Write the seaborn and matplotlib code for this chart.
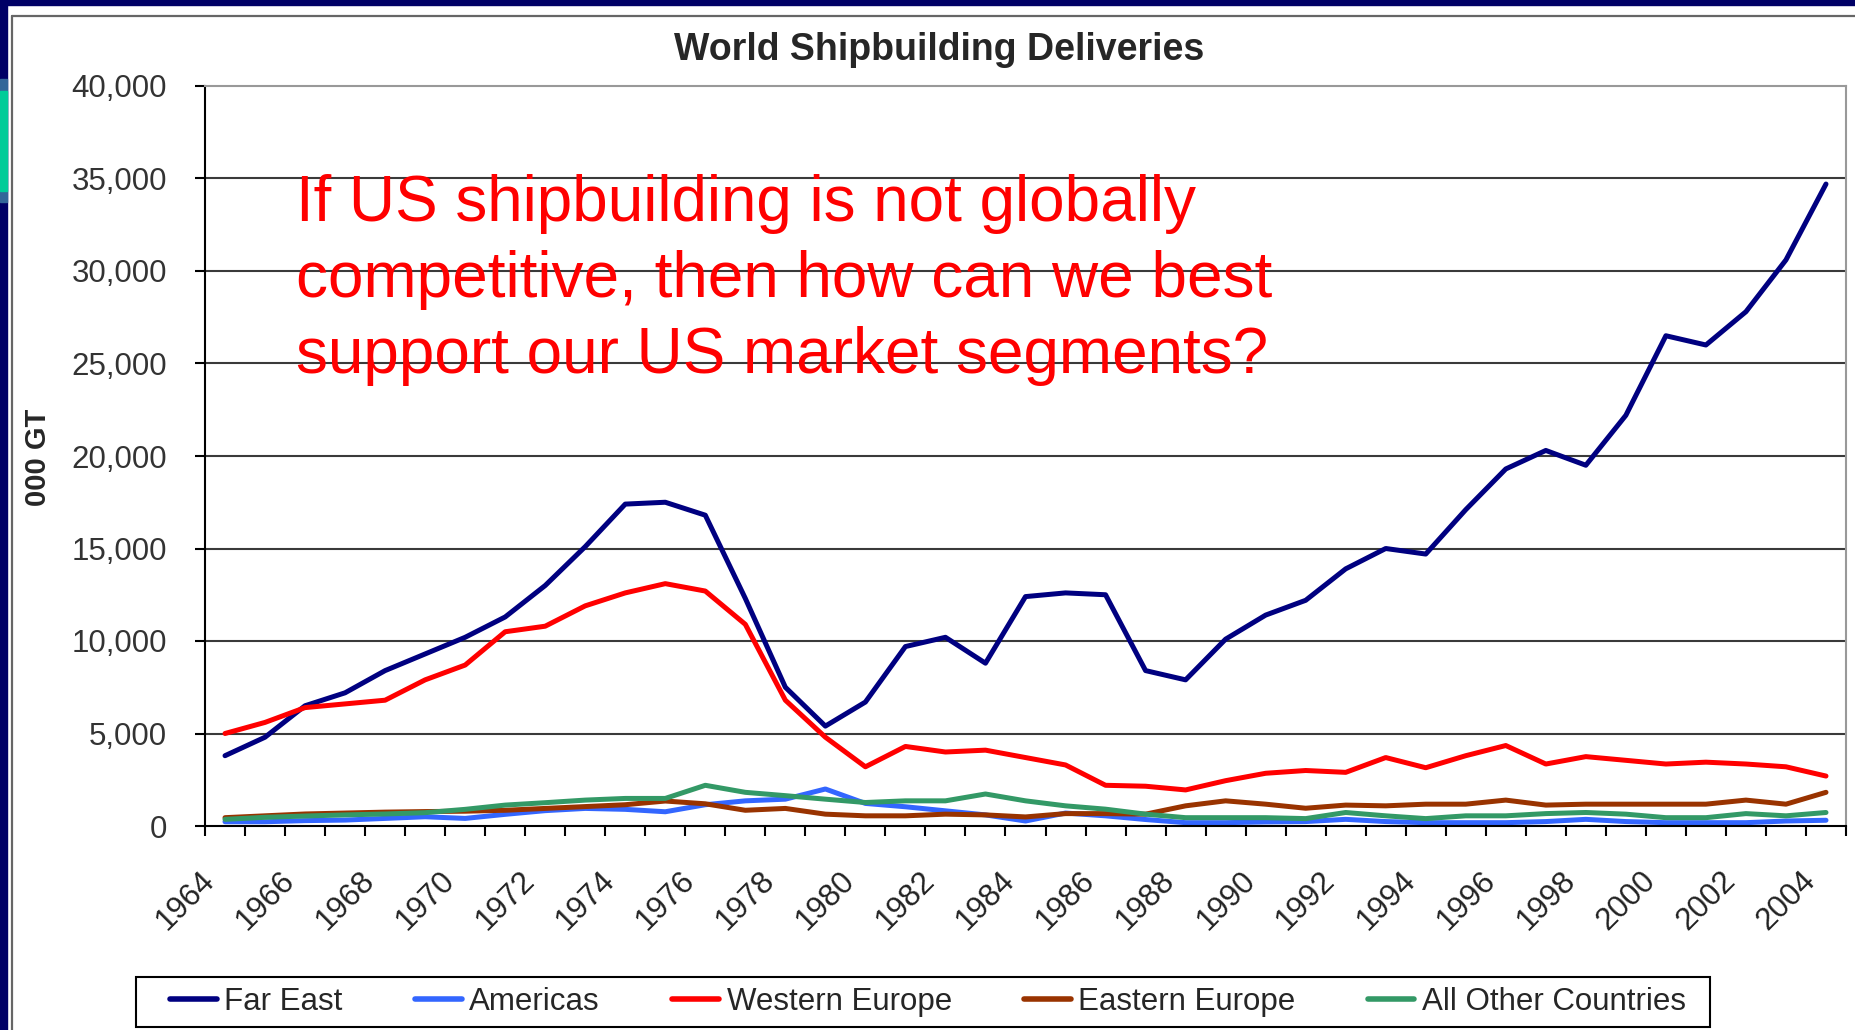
import numpy as np
import pandas as pd
import matplotlib
matplotlib.use("Agg")
import matplotlib.pyplot as plt
import matplotlib.transforms as mtransforms
from matplotlib.patches import Rectangle
from matplotlib.lines import Line2D
import seaborn as sns

# data (000 GT)
years = list(range(1964, 2005))
far_east = [3800, 4800, 6500, 7200, 8400, 9300, 10200, 11300, 13000, 15100,
            17400, 17500, 16800, 12300, 7500, 5400, 6700, 9700, 10200, 8800,
            12400, 12600, 12500, 8400, 7900, 10100, 11400, 12200, 13900, 15000,
            14700, 17100, 19300, 20300, 19500, 22200, 26500, 26000, 27800, 30600,
            34700]
americas = [230, 230, 290, 320, 410, 500, 410, 630, 830, 950,
            900, 770, 1150, 1360, 1450, 2000, 1220, 1040, 820, 600,
            270, 700, 550, 350, 180, 180, 220, 240, 360, 240,
            180, 180, 180, 240, 360, 240, 180, 180, 180, 270,
            310]
western_europe = [5000, 5600, 6400, 6600, 6800, 7900, 8700, 10500, 10800, 11900,
                  12600, 13100, 12700, 10900, 6800, 4800, 3200, 4300, 4000, 4100,
                  3700, 3300, 2200, 2150, 1950, 2450, 2850, 3000, 2900, 3700,
                  3150, 3800, 4350, 3350, 3750, 3550, 3350, 3450, 3350, 3200,
                  2700]
eastern_europe = [450, 550, 650, 700, 750, 780, 800, 850, 950, 1050,
                  1150, 1350, 1200, 850, 950, 640, 550, 550, 640, 600,
                  490, 670, 670, 640, 1090, 1360, 1180, 960, 1130, 1090,
                  1180, 1180, 1400, 1130, 1180, 1180, 1180, 1180, 1400, 1180,
                  1820]
all_other = [360, 470, 540, 600, 650, 720, 900, 1130, 1260, 1400,
             1490, 1490, 2200, 1820, 1640, 1450, 1270, 1360, 1360, 1730,
             1360, 1090, 910, 640, 450, 450, 450, 400, 730, 550,
             400, 550, 550, 670, 730, 640, 450, 450, 670, 550,
             730]

series_names = ["Far East", "Americas", "Western Europe", "Eastern Europe", "All Other Countries"]
series_colors = ["#000080", "#3366FF", "#FF0000", "#993300", "#339966"]
y_ticks = list(range(0, 40001, 5000))
x_label_years = list(range(1964, 2005, 2))
question_lines = ["If US shipbuilding is not globally",
                  "competitive, then how can we best",
                  "support our US market segments?"]

df = pd.DataFrame({"year": years, "Far East": far_east, "Americas": americas,
                   "Western Europe": western_europe, "Eastern Europe": eastern_europe,
                   "All Other Countries": all_other})
long_df = df.melt(id_vars="year", var_name="region", value_name="gt")

sns.set_style("white")
plt.rcParams["font.family"] = ["Liberation Sans", "DejaVu Sans"]

W, H = 1856, 1030
fig = plt.figure(figsize=(W / 100, H / 100), dpi=100)
fig.patch.set_facecolor("white")

def fx(px):
    return px / W

def fy(py):
    return 1 - py / H

# slide decoration
fig.add_artist(Rectangle((0, fy(5)), 1, 5 / H, transform=fig.transFigure, color="#000066", zorder=0))
fig.add_artist(Rectangle((0, 0), fx(7), 1, transform=fig.transFigure, color="#000066", zorder=0))
fig.add_artist(Rectangle((0, fy(202)), fx(7), 123 / H, transform=fig.transFigure, color="#336699", zorder=1))
fig.add_artist(Rectangle((0, fy(191)), fx(7), 100 / H, transform=fig.transFigure, color="#00CC99", zorder=2))
fig.add_artist(Line2D([fx(12), 1], [fy(16), fy(16)], transform=fig.transFigure, color="#666666", lw=1.6))
fig.add_artist(Line2D([fx(12), fx(12)], [fy(16), 0], transform=fig.transFigure, color="#666666", lw=1.6))

ax = fig.add_axes([fx(205), fy(826), (1846 - 205) / W, (826 - 86) / H])
ax.set_facecolor("white")

sns.lineplot(data=long_df, x="year", y="gt", hue="region", hue_order=series_names,
             palette=dict(zip(series_names, series_colors)), linewidth=3.6, ax=ax)

ax.set_xlim(1963.5, 2004.5)
ax.set_ylim(0, 40000)
ax.set_xlabel("")
ax.set_ylabel("")

ax.set_yticks(y_ticks)
ax.set_yticklabels([f"{v:,}" for v in y_ticks], fontsize=22.5, color="#333333")
ax.tick_params(axis="y", direction="out", length=7.2, width=1.5, color="black", pad=20, left=True)
for y in y_ticks[1:-1]:
    ax.axhline(y, color="#3a3a3a", lw=1.5, zorder=0.5)

ax.set_xticks(x_label_years)
ax.set_xticklabels([str(y) for y in x_label_years], rotation=45, ha="right", va="center",
                   rotation_mode="anchor", fontsize=22.5, color="#222222")
ax.tick_params(axis="x", which="major", length=0, pad=36, bottom=True)
ax.set_xticks(np.arange(1963.5, 2005, 1), minor=True)
ax.tick_params(axis="x", which="minor", direction="out", length=7.2, width=1.5, color="black", bottom=True)
shift = mtransforms.ScaledTranslation(-15 / 100, 0, fig.dpi_scale_trans)
for lab in ax.get_xticklabels():
    lab.set_transform(lab.get_transform() + shift)

for side in ["left", "bottom"]:
    ax.spines[side].set_color("black")
    ax.spines[side].set_linewidth(1.5)
for side in ["top", "right"]:
    ax.spines[side].set_color("#999999")
    ax.spines[side].set_linewidth(1.5)

fig.text(fx(939), fy(50), "World Shipbuilding Deliveries", ha="center", va="center",
         fontsize=27, fontweight="bold")
fig.text(fx(38), fy(457), "000 GT", rotation=90, ha="center", va="center",
         fontsize=21, fontweight="bold")

for i, line in enumerate(question_lines):
    fig.text(fx(296), fy(221 + 76 * i), line, ha="left", va="baseline",
             fontsize=46, color="#FF0000")

# legend at the bottom with its own box
fig.add_artist(Rectangle((fx(136), fy(1027)), 1574 / W, 50 / H, transform=fig.transFigure,
                         fill=False, edgecolor="black", lw=1.5))
sns.move_legend(ax, loc="center", bbox_to_anchor=(fx(928), fy(1002)),
                bbox_transform=fig.transFigure, ncol=5, frameon=False, title=None,
                fontsize=22.5, handlelength=1.5, handletextpad=0.25, columnspacing=2.3)
for h in ax.get_legend().legend_handles:
    h.set_linewidth(4)

fig.savefig("out.png", dpi=100)
